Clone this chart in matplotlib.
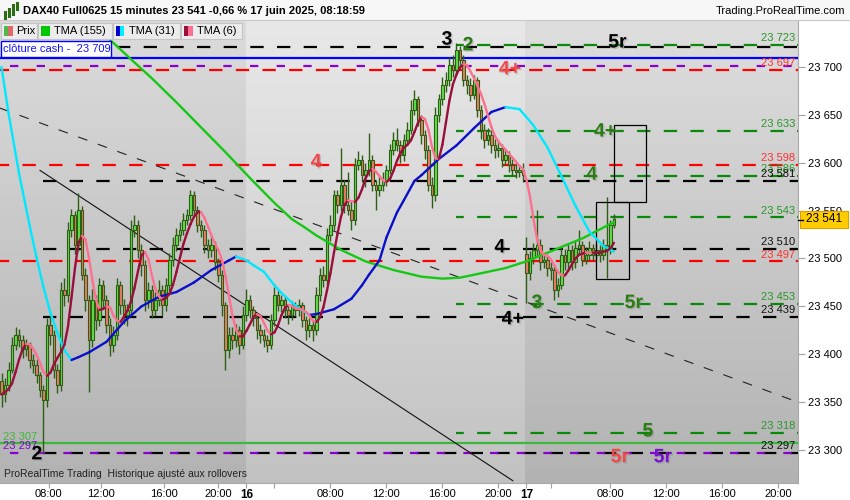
import numpy as np
import pandas as pd
import matplotlib
matplotlib.use("Agg")
import matplotlib.pyplot as plt
import matplotlib.patheffects as pe
from matplotlib.collections import LineCollection
from matplotlib.patches import Rectangle
from matplotlib.ticker import FuncFormatter

plt.rcParams['font.family'] = ['Liberation Sans', 'DejaVu Sans']
plt.rcParams['lines.scale_dashes'] = False

# ---------------- data: DAX40 15 min bars, 13 -> 17 June 2025 ----------------
closes = [
    23358, 23368, 23384, 23410, 23420, 23415, 23405, 23410, 23394, 23389,
    23378, 23363, 23352, 23431, 23420, 23384, 23368, 23467, 23462, 23530,
    23545, 23514, 23551, 23483, 23457, 23415, 23457, 23436, 23472, 23457,
    23431, 23410, 23420, 23472, 23451, 23441, 23446, 23530, 23535, 23509,
    23493, 23457, 23467, 23446, 23457, 23467, 23451, 23472, 23498, 23514,
    23525, 23530, 23540, 23545, 23566, 23551, 23535, 23530, 23514, 23509,
    23514, 23496, 23483, 23451, 23404, 23420, 23415, 23425, 23410, 23441,
    23457, 23446, 23438, 23425, 23420, 23415, 23410, 23436, 23462, 23451,
    23457, 23446, 23441, 23451, 23446, 23451, 23436, 23425, 23431, 23425,
    23462, 23483, 23478, 23525, 23535, 23566, 23556, 23577, 23556, 23551,
    23540, 23598, 23603, 23587, 23592, 23603, 23577, 23572, 23577, 23582,
    23592, 23613, 23624, 23619, 23608, 23624, 23634, 23655, 23666, 23645,
    23629, 23613, 23577, 23566, 23650, 23666, 23681, 23686, 23702, 23697,
    23718, 23707, 23686, 23681, 23671, 23686, 23655, 23634, 23624, 23629,
    23619, 23613, 23615, 23603, 23608, 23598, 23592, 23590, 23592, 23587,
    23485, 23500, 23509, 23514, 23496, 23498, 23490, 23488, 23467, 23472,
    23504, 23496, 23509, 23496, 23511, 23514, 23498, 23504, 23511, 23504,
    23509, 23504, 23514, 23509, 23535, 23541,
]
highs = [
    23380, 23375, 23392, 23418, 23428, 23426, 23420, 23416, 23413, 23400,
    23395, 23382, 23368, 23438, 23440, 23425, 23390, 23475, 23480, 23538,
    23552, 23550, 23568, 23555, 23490, 23462, 23468, 23462, 23480, 23478,
    23462, 23438, 23430, 23480, 23476, 23458, 23452, 23540, 23545, 23540,
    23515, 23498, 23475, 23472, 23465, 23478, 23472, 23480, 23506, 23522,
    23532, 23538, 23548, 23552, 23572, 23570, 23555, 23540, 23535, 23520,
    23522, 23518, 23500, 23488, 23455, 23428, 23428, 23432, 23430, 23450,
    23468, 23462, 23450, 23442, 23432, 23426, 23420, 23442, 23470, 23467,
    23462, 23460, 23450, 23456, 23455, 23458, 23455, 23440, 23438, 23435,
    23470, 23490, 23492, 23532, 23545, 23572, 23572, 23615, 23582, 23590,
    23560, 23605, 23612, 23608, 23600, 23631, 23608, 23582, 23585, 23590,
    23598, 23620, 23632, 23636, 23624, 23630, 23642, 23665, 23676, 23670,
    23650, 23634, 23618, 23585, 23658, 23672, 23690, 23695, 23710, 23712,
    23725, 23722, 23712, 23692, 23688, 23692, 23690, 23660, 23640, 23636,
    23634, 23625, 23622, 23620, 23614, 23612, 23604, 23600, 23598, 23600,
    23522, 23508, 23516, 23551, 23520, 23506, 23504, 23496, 23492, 23480,
    23512, 23510, 23516, 23514, 23518, 23530, 23518, 23512, 23518, 23515,
    23516, 23514, 23520, 23564, 23540, 23546,
]
lows = [
    23345, 23350, 23362, 23380, 23404, 23408, 23396, 23398, 23386, 23380,
    23370, 23355, 23298, 23345, 23410, 23375, 23360, 23362, 23450, 23455,
    23522, 23505, 23508, 23478, 23445, 23361, 23408, 23425, 23430, 23448,
    23422, 23398, 23402, 23415, 23442, 23432, 23430, 23440, 23522, 23500,
    23482, 23445, 23448, 23438, 23440, 23450, 23440, 23445, 23466, 23492,
    23508, 23518, 23525, 23535, 23540, 23545, 23528, 23522, 23506, 23500,
    23502, 23488, 23475, 23440, 23384, 23396, 23405, 23408, 23400, 23405,
    23435, 23438, 23430, 23416, 23412, 23408, 23402, 23406, 23430, 23445,
    23444, 23438, 23432, 23436, 23440, 23440, 23428, 23415, 23418, 23414,
    23420, 23456, 23470, 23472, 23518, 23530, 23548, 23550, 23548, 23545,
    23530, 23535, 23592, 23580, 23575, 23586, 23570, 23551, 23565, 23570,
    23576, 23588, 23608, 23612, 23600, 23602, 23618, 23630, 23650, 23638,
    23620, 23604, 23570, 23553, 23560, 23642, 23660, 23674, 23680, 23690,
    23692, 23700, 23680, 23672, 23664, 23666, 23648, 23625, 23615, 23618,
    23610, 23605, 23606, 23596, 23598, 23590, 23586, 23584, 23585, 23580,
    23454, 23478, 23494, 23502, 23488, 23490, 23482, 23478, 23457, 23460,
    23468, 23488, 23490, 23488, 23490, 23505, 23492, 23494, 23498, 23498,
    23498, 23496, 23498, 23480, 23505, 23532,
]
first_open = 23372
day17_bar = 150          # first bar of the 17 June session (gap open)
day17_open = 23505
last_price = 23541

tma31_bar = [0, 2, 5, 8, 10, 12, 14, 16, 18, 20, 22, 25, 30, 35, 40, 45, 50, 55,
             60, 65, 67, 70, 72, 75, 78, 80, 83, 85, 88, 90, 95, 100, 103, 105,
             108, 110, 113, 115, 118, 120, 125, 130, 135, 140, 144, 148, 152,
             156, 160, 164, 168, 172, 175]
tma31_val = [23700, 23652, 23589, 23535, 23501, 23470, 23443, 23422, 23404, 23394,
             23397, 23402, 23413, 23434, 23450, 23460, 23465, 23475, 23488, 23498,
             23502, 23498, 23493, 23486, 23472, 23464, 23454, 23448, 23441, 23442,
             23447, 23458, 23472, 23483, 23498, 23522, 23548, 23561, 23581, 23587,
             23604, 23618, 23636, 23653, 23658, 23656, 23639, 23616, 23586, 23555,
             23528, 23513, 23507]
tma155_bar = [28, 32, 37, 43, 50, 57, 64, 71, 78, 83, 86, 90, 97, 104, 112, 120,
              126, 131, 135, 144, 150, 158, 166, 175]
tma155_val = [23738, 23725, 23708, 23688, 23663, 23637, 23611, 23584, 23558, 23541,
              23534, 23524, 23509, 23497, 23488, 23481, 23479, 23480, 23483, 23490,
              23497, 23509, 23521, 23538]

# horizontal levels (price, first bar)
black_levels = [23721, 23581, 23510, 23439, 23297]
black_start = [33, 12, 12, 12, 12]
green_levels = [23723, 23633, 23586, 23543, 23453, 23318]
red_levels = [23697, 23598, 23497]
purple_levels = [23701, 23297]
cash_close = 23709
green_support = 23307

# trend lines (bar, price)
trend_solid_bar, trend_solid_price = [11, 146.1], [23592, 23268]
trend_dash_bar, trend_dash_price = [-0.43, 227.6], [23657, 23350]

# target zones (bar from, bar to, price low, price high)
zones = [(169.9, 179.3, 23479, 23559), (175.0, 184.1, 23559, 23639)]

# level annotations
ann_text = ['3', '2', '5r', '4+', '4+', '4', '4', '4', '3', '5r', '4+', '5', '2', '5r', '5r']
ann_bar = [127.3, 133.3, 176.0, 145.3, 172.5, 89.9, 168.7, 142.4, 153.0, 180.7,
           146.1, 184.7, 10.1, 176.7, 189.0]
ann_price = [23728, 23722, 23725, 23697, 23632, 23600, 23587, 23511, 23453, 23453,
             23436, 23319, 23295, 23292, 23292]
ann_kind = ['k', 'g', 'k', 'r', 'g', 'r', 'g', 'k', 'g', 'g', 'k', 'g', 'k', 'r', 'p']

tag_price = [23723, 23697, 23633, 23598, 23586, 23581, 23543, 23510, 23497, 23453,
             23439, 23318, 23297]
tag_kind = ['g', 'r', 'g', 'r', 'g', 'k', 'g', 'k', 'r', 'g', 'k', 'g', 'k']

tick_bar = [13.5, 28.5, 46.5, 62, 70, 94, 110, 126, 142, 150, 174, 190, 206, 222]
tick_lab = ['08:00', '12:00', '16:00', '20:00', '16', '08:00', '12:00', '16:00',
            '20:00', '17', '08:00', '12:00', '16:00', '20:00']

# ---------------- colours ----------------
LVL = {'k': '#000000', 'g': '#0a8a0a', 'r': '#ff0000', 'p': '#8a00d0'}
TXT = {'k': '#000000', 'g': '#2a7d12', 'r': '#f04848', 'p': '#7a10d0'}
TAG = {'k': '#111111', 'g': '#2a962a', 'r': '#ff3030', 'p': '#8a00d0'}
WICK = '#2d5e14'

W, H = 850, 500
fx = lambda px: px / W
fy = lambda py: 1 - py / H

fig = plt.figure(figsize=(8.5, 5), dpi=100)
fig.patch.set_facecolor('white')
ax = fig.add_axes([0, fy(483), fx(798), (483 - 20) / H])
x_lo, x_hi = -0.43, 227.6
y_lo, y_hi = 23265.6, 23749

# session shading with vertical gradient
shade = [(x_lo, 69.9, 0.86, 0.70), (69.9, 149.6, 0.91, 0.76), (149.6, x_hi, 0.87, 0.70)]
for a, b, top, bot in shade:
    g = np.linspace(top, bot, 256)[:, None, None] * np.ones((1, 1, 3))
    ax.imshow(g, extent=(a, b, y_lo, y_hi), aspect='auto', origin='upper',
              interpolation='bilinear', zorder=0)

dash = (0, (9.6, 9.6))
for p, s in zip(black_levels, black_start):
    ax.plot([s, x_hi], [p, p], color=LVL['k'], lw=1.6, ls=dash, zorder=2)
for p in green_levels:
    ax.plot([130, x_hi], [p, p], color=LVL['g'], lw=1.6, ls=(4, (9.6, 9.6)), zorder=2)
for p in red_levels:
    ax.plot([x_lo, x_hi], [p, p], color=LVL['r'], lw=1.6, ls=(3, (9.6, 9.6)), zorder=2)
for p in purple_levels:
    ax.plot([x_lo, x_hi], [p, p], color=LVL['p'], lw=1.6, ls=(12, (6, 13.2)), zorder=2)
ax.axhline(cash_close, color='#0000ff', lw=1.6, zorder=2)
ax.axhline(green_support, color='#3cb83c', lw=1.6, zorder=2)

ax.plot(trend_solid_bar, trend_solid_price, color='#111111', lw=0.8, zorder=3)
ax.plot(trend_dash_bar, trend_dash_price, color='#222222', lw=0.8, ls=(0, (7, 8)), zorder=3)

for a, b, lo, hi in zones:
    ax.add_patch(Rectangle((a, lo), b - a, hi - lo, fill=False, ec='black', lw=0.9, zorder=6))

# candles
c = np.array(closes, float)
o = np.r_[first_open, c[:-1]]
o[day17_bar] = day17_open
hi_ = np.maximum(np.array(highs, float), np.maximum(o, c))
lo_ = np.minimum(np.array(lows, float), np.minimum(o, c))
bars = np.arange(len(c))
up = c >= o
ax.vlines(bars, lo_, hi_, color=WICK, lw=1.0, zorder=4)
ax.bar(bars, np.maximum(np.abs(c - o), 1.2), bottom=np.minimum(o, c), width=0.62,
       color=np.where(up, '#5fe04a', '#f07a68'), edgecolor=WICK, linewidth=0.8, zorder=5)


def two_tone(x, y, rise, fall, lw=1.7):
    x = np.asarray(x, float)
    y = np.asarray(y, float)
    pts = np.column_stack([x, y])
    segs = np.stack([pts[:-1], pts[1:]], axis=1)
    cols = [rise if b >= a else fall for a, b in zip(y[:-1], y[1:])]
    ax.add_collection(LineCollection(segs, colors=cols, linewidths=lw,
                                     capstyle='round', joinstyle='round', zorder=7))


tma6 = pd.Series(c).rolling(3, min_periods=1).mean().rolling(4, min_periods=1).mean()
ax.plot(tma155_bar, tma155_val, color='#14c814', lw=1.7, zorder=7, solid_capstyle='round')
two_tone(tma31_bar, tma31_val, '#0a10c8', '#00e8ff')
two_tone(bars, tma6.to_numpy(), '#9a0e3a', '#ff7090')

shadow = [pe.withSimplePatchShadow(offset=(1, -1), shadow_rgbFace='#808080', alpha=0.35)]
for t, b, p, k in zip(ann_text, ann_bar, ann_price, ann_kind):
    ax.text(b, p, t, color=TXT[k], fontsize=14, fontweight='bold', ha='center',
            va='center', zorder=9, path_effects=shadow)

for p, k in zip(tag_price, tag_kind):
    ax.annotate(f"{p:,}".replace(',', ' '), (226.8, p), xytext=(0, 1.2),
                textcoords='offset points', ha='right', va='bottom', fontsize=8,
                color=TAG[k], zorder=8)
ax.annotate(f"{green_support:,}".replace(',', ' '), (0.5, green_support), xytext=(0, 1.2),
            textcoords='offset points', ha='left', va='bottom', fontsize=8,
            color='#3cb83c', zorder=8)
ax.annotate(f"{purple_levels[1]:,}".replace(',', ' '), (0.5, purple_levels[1]),
            xytext=(0, 1.2), textcoords='offset points', ha='left', va='bottom',
            fontsize=8, color=LVL['p'], zorder=8)

ax.text(0.8, 23270, "ProRealTime Trading  Historique ajusté aux rollovers",
        fontsize=7.5, color='#222222', va='bottom', zorder=9)

ax.set_xlim(x_lo, x_hi)
ax.set_ylim(y_lo, y_hi)

# axes / ticks
ax.yaxis.tick_right()
ax.set_yticks(np.arange(23300, 23701, 50))
ax.yaxis.set_major_formatter(FuncFormatter(lambda v, _: f"{int(v):,}".replace(',', ' ')))
ax.tick_params(axis='y', length=5, width=0.8, color='#a0a0a0', labelsize=8, pad=2)
ax.set_xticks(tick_bar)
ax.set_xticklabels(tick_lab)
ax.set_xticks([78, 157], minor=True)
ax.tick_params(axis='x', which='both', length=3.5, width=0.8, color='#a0a0a0',
               labelsize=8, pad=0.5)
for t in ax.get_xticklabels():
    if t.get_text() in ('16', '17'):
        t.set_fontweight('bold')
        t.set_fontsize(8.5)
for side in ('top', 'left'):
    ax.spines[side].set_visible(False)
for side in ('right', 'bottom'):
    ax.spines[side].set_color('#a8a8a8')
    ax.spines[side].set_linewidth(0.8)

# current price tag
fig.add_artist(Rectangle((fx(800), fy(228)), fx(48), 17 / H, transform=fig.transFigure,
                         fc='#ffcc00', ec='#e0a000', lw=0.8, zorder=10))
fig.text(fx(824), fy(219.5), f"{last_price:,}".replace(',', ' '), ha='center', va='center',
         fontsize=8.5, zorder=11)
fig.add_artist(plt.Line2D([fx(798), fx(803)], [fy(219.5), fy(219.5)], color='black',
                          lw=1, transform=fig.transFigure, zorder=10))

# header bar
fig.add_artist(Rectangle((0, fy(19.5)), 1, 19.5 / H, transform=fig.transFigure,
                         fc='#f7f7f7', ec='none', zorder=9))
fig.add_artist(plt.Line2D([0, 1], [fy(19.5), fy(19.5)], color='#c8c8c8', lw=0.8,
                          transform=fig.transFigure, zorder=10))
for px, top, bot in [(5, 12, 18), (9, 9, 16), (13, 5, 14), (16.5, 3, 9)]:
    fig.add_artist(plt.Line2D([fx(px), fx(px)], [fy(bot), fy(top)], color='#2d6e14',
                              lw=2.2, transform=fig.transFigure, zorder=11))
fig.text(fx(23), fy(11), "DAX40 Full0625 15 minutes 23 541 -0,66 % 17 juin 2025, 08:18:59",
         fontsize=8, fontweight='bold', va='center', zorder=11)
fig.text(fx(845), fy(11), "Trading.ProRealTime.com", fontsize=8, ha='right',
         va='center', zorder=11)

# indicator legend boxes
legend = [("Prix", 1, 37, ['#4cbb4c', '#e06868']),
          ("TMA (155)", 38, 112, ['#00c800', '#00c800']),
          ("TMA (31)", 113, 180, ['#0000d0', '#00f0ff']),
          ("TMA (6)", 181, 242, ['#99103a', '#ff6f90'])]
for name, x0, x1, sw in legend:
    fig.add_artist(Rectangle((fx(x0), fy(39)), fx(x1 - x0), 16 / H, transform=fig.transFigure,
                             fc='#ececec', ec='#c4c4c4', lw=0.8, zorder=10))
    fig.add_artist(Rectangle((fx(x0 + 2.5), fy(36)), fx(4.5), 10 / H, transform=fig.transFigure,
                             fc=sw[0], ec='none', zorder=11))
    fig.add_artist(Rectangle((fx(x0 + 7), fy(36)), fx(4.5), 10 / H, transform=fig.transFigure,
                             fc=sw[1], ec='none', zorder=11))
    fig.text(fx(x0 + (15 if name == 'Prix' else 16)), fy(31), name, fontsize=8,
             va='center', zorder=12)

fig.add_artist(Rectangle((fx(0.5), fy(57)), fx(110), 16 / H, transform=fig.transFigure,
                         fc='white', ec='#0000ff', lw=1, zorder=10))
fig.text(fx(3), fy(49), "clôture cash -  23 709", fontsize=8, color='#1414ff',
         va='center', zorder=11)

fig.savefig('out.png', dpi=100)
